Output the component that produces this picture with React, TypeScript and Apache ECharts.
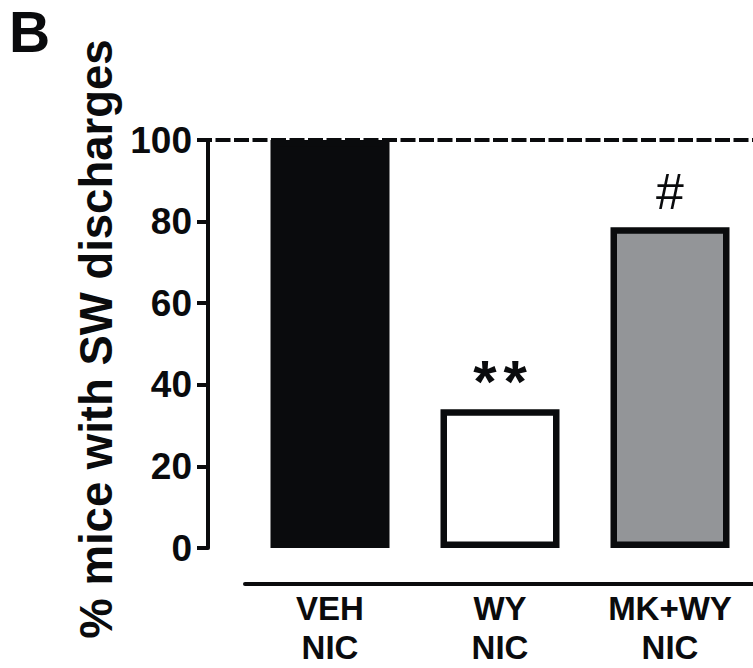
import React, { useEffect, useRef } from "react";
import * as echarts from "echarts";

const groups = ["VEH", "WY", "MK+WY"];
const secondLine = ["NIC", "NIC", "NIC"];
const percentValues = [100, 34, 78.6];
const barColors = ["#0a0b0d", "#ffffff", "#939598"];
const annotations = ["", "**", "#"];
const refValue = 100;
const yTicks = [0, 20, 40, 60, 80, 100];

const FONT = "'Liberation Sans', Arial, Helvetica, sans-serif";
const INK = "#0a0b0d";

export default function App() {
  const ref = useRef<HTMLDivElement>(null);
  useEffect(() => {
    if (!ref.current) return;
    const chart = echarts.init(ref.current, null, { renderer: "svg" });
    const categories = groups.map((g, i) => `${g}\n${secondLine[i]}`);
    const barData = percentValues.map((v, i) => {
      const item: any = { value: v, itemStyle: { color: barColors[i] } };
      if (annotations[i] === "**") {
        item.label = {
          show: true,
          position: "top",
          distance: -2,
          formatter: "{a|*}{b|*}",
          rich: {
            a: { fontSize: 60, fontWeight: "bold", fontFamily: FONT, color: INK, padding: [0, 7, 0, 0] },
            b: { fontSize: 60, fontWeight: "bold", fontFamily: FONT, color: INK },
          },
        };
      } else if (annotations[i]) {
        item.label = {
          show: true,
          position: "top",
          distance: 10,
          formatter: annotations[i],
          fontSize: 50,
          fontWeight: "normal",
          fontFamily: FONT,
          color: INK,
        };
      }
      return item;
    });
    chart.setOption({
      animation: false,
      backgroundColor: "#ffffff",
      textStyle: { fontFamily: FONT },
      graphic: [
        {
          type: "text",
          left: 9,
          top: 3,
          style: { text: "B", font: `bold 57px ${FONT}`, lineHeight: 44, fill: INK },
        },
      ],
      grid: [
        { left: 197, right: 0, top: 140, height: 408, outerBoundsMode: "none", containLabel: false },
        { left: 245, width: 510, top: 140, height: 408, outerBoundsMode: "none", containLabel: false },
      ],
      xAxis: [
        { type: "value", gridIndex: 0, min: 0, max: 1, show: false },
        {
          type: "category",
          gridIndex: 1,
          data: categories,
          offset: 36,
          axisLine: { show: true, onZero: false, lineStyle: { color: INK, width: 4 } },
          axisTick: { show: false },
          axisLabel: {
            fontSize: 33,
            fontWeight: "bold",
            fontFamily: FONT,
            color: INK,
            lineHeight: 39,
            margin: 5,
          },
        },
      ],
      yAxis: [
        {
          type: "value",
          gridIndex: 0,
          min: yTicks[0],
          max: yTicks[yTicks.length - 1],
          interval: yTicks[1] - yTicks[0],
          offset: -11,
          name: "% mice with SW discharges",
          nameLocation: "middle",
          nameGap: 78,
          nameTextStyle: {
            fontSize: 45.5,
            fontWeight: "bold",
            fontFamily: FONT,
            color: INK,
            padding: [0, 0, 0, 10],
          },
          axisLine: { show: true, lineStyle: { color: INK, width: 4 } },
          axisTick: { show: true, length: 11, lineStyle: { color: INK, width: 4 } },
          axisLabel: { fontSize: 37, fontWeight: "bold", fontFamily: FONT, color: INK, margin: 16 },
          splitLine: { show: false },
        },
        { type: "value", gridIndex: 1, min: 0, max: 100, show: false },
      ],
      series: [
        {
          type: "line",
          xAxisIndex: 0,
          yAxisIndex: 0,
          data: [
            [0, refValue],
            [1, refValue],
          ],
          symbol: "none",
          silent: true,
          lineStyle: { color: INK, width: 4, type: [15, 3.5] },
          z: 1,
        },
        {
          type: "bar",
          xAxisIndex: 1,
          yAxisIndex: 1,
          data: barData,
          barWidth: 119,
          itemStyle: { borderColor: INK, borderWidth: 6.5 },
          z: 2,
        },
      ],
    });
    return () => chart.dispose();
  }, []);
  return (
    <div
      ref={ref}
      style={{ position: "absolute", left: 0, top: 0, width: 753, height: 668 }}
    />
  );
}
